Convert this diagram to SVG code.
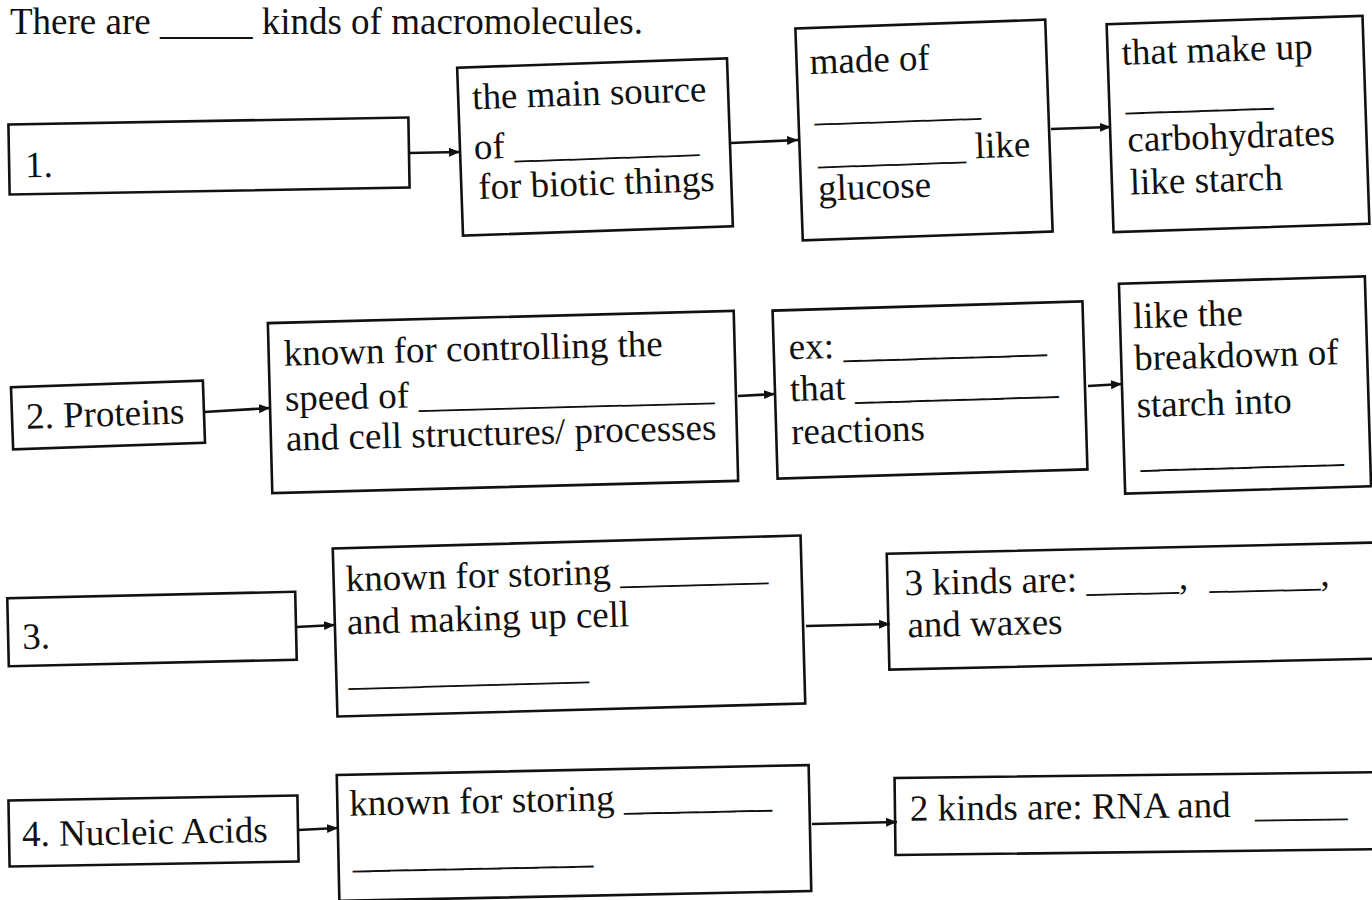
<svg xmlns="http://www.w3.org/2000/svg" width="1372" height="900" viewBox="0 0 1372 900">
<style>
  .box { fill: #fff; stroke: #111; stroke-width: 2.6; }
  text { font-family: "Liberation Serif", "Times New Roman", serif; font-size: 37px; fill: #111; }
  .conn line { stroke: #111; stroke-width: 2.6; }
</style>
<defs>
  <marker id="ah" markerUnits="userSpaceOnUse" markerWidth="12" markerHeight="10" refX="11" refY="5" orient="auto">
    <path d="M0,0.5 L11,5 L0,9.5 Z" fill="#111"/>
  </marker>
</defs>
<rect width="1372" height="900" fill="#fff"/>

<text id="title" x="10" y="34">There are _____ kinds of macromolecules.</text>

<g id="n1" transform="translate(209,156) rotate(-1)">
  <rect class="box" x="-200" y="-35" width="400" height="70"/>
  <text x="-184" y="18">1.</text>
</g>
<g id="n1a" transform="translate(595,147) rotate(-2)">
  <rect class="box" x="-135" y="-84" width="270" height="168"/>
  <text x="-121" y="-42">the main source</text>
  <text x="-121" y="8">of __________</text>
  <text x="-118" y="48">for biotic things</text>
</g>
<g id="n1b" transform="translate(924,130) rotate(-2)">
  <rect class="box" x="-125" y="-106" width="250" height="212"/>
  <text x="-112" y="-60">made of</text>
  <text x="-109" y="-13">_________</text>
  <text x="-107" y="30">________ like</text>
  <text x="-108" y="67">glucose</text>
</g>
<g id="n1c" transform="translate(1238,124) rotate(-1.9)">
  <rect class="box" x="-128" y="-104" width="256" height="208"/>
  <text x="-114" y="-63">that make up</text>
  <text x="-112" y="-18">________</text>
  <text x="-111" y="24">carbohydrates</text>
  <text x="-110" y="67">like starch</text>
</g>

<g id="n2" transform="translate(108,415) rotate(-2)">
  <rect class="box" x="-96" y="-31" width="192" height="62"/>
  <text x="-82" y="11">2. Proteins</text>
</g>
<g id="n2a" transform="translate(503,402) rotate(-1.5)">
  <rect class="box" x="-233" y="-85" width="466" height="170"/>
  <text x="-218" y="-42">known for controlling the</text>
  <text x="-218" y="3">speed of ________________</text>
  <text x="-218" y="43">and cell structures/ processes</text>
</g>
<g id="n2b" transform="translate(930,390) rotate(-1.7)">
  <rect class="box" x="-155" y="-84" width="310" height="168"/>
  <text x="-140" y="-35">ex: ___________</text>
  <text x="-140" y="7">that ___________</text>
  <text x="-140" y="50">reactions</text>
</g>
<g id="n2c" transform="translate(1245,385) rotate(-1.7)">
  <rect class="box" x="-123" y="-105" width="246" height="210"/>
  <text x="-110" y="-60">like the</text>
  <text x="-110" y="-18">breakdown of</text>
  <text x="-109" y="29">starch into</text>
  <text x="-107" y="79">___________</text>
</g>

<g id="n3" transform="translate(152,629) rotate(-1.3)">
  <rect class="box" x="-144" y="-34" width="288" height="68"/>
  <text x="-130" y="17">3.</text>
</g>
<g id="n3a" transform="translate(569,626) rotate(-1.6)">
  <rect class="box" x="-234" y="-84" width="468" height="168"/>
  <text x="-222" y="-41">known for storing ________</text>
  <text x="-222" y="2">and making up cell</text>
  <text x="-222" y="53">_____________</text>
</g>
<g id="n3b" transform="translate(1138,606) rotate(-1.3)">
  <rect class="box" x="-250" y="-58" width="500" height="116"/>
  <text x="-233" y="-16">3 kinds are: _____, <tspan x="72">______,</tspan></text>
  <text x="-231" y="26">and waxes</text>
</g>

<g id="n4" transform="translate(153,831) rotate(-1)">
  <rect class="box" x="-144" y="-33" width="289" height="66"/>
  <text x="-131" y="13">4. Nucleic Acids</text>
</g>
<g id="n4a" transform="translate(574,833) rotate(-1.2)">
  <rect class="box" x="-236" y="-63" width="472" height="126"/>
  <text x="-224" y="-22">known for storing ________</text>
  <text x="-222" y="30">_____________</text>
</g>
<g id="n4b" transform="translate(1145,813) rotate(-0.7)">
  <rect class="box" x="-250" y="-38" width="500" height="77"/>
  <text x="-235" y="5">2 kinds are: RNA and <tspan x="110">_____</tspan></text>
</g>

<g id="connectors" class="conn">
  <line x1="409" y1="153" x2="460" y2="152" marker-end="url(#ah)"/>
  <line x1="731" y1="143" x2="798" y2="140" marker-end="url(#ah)"/>
  <line x1="1051" y1="129" x2="1111" y2="127" marker-end="url(#ah)"/>
  <line x1="204" y1="412" x2="270" y2="408" marker-end="url(#ah)"/>
  <line x1="738" y1="396" x2="775" y2="394" marker-end="url(#ah)"/>
  <line x1="1088" y1="386" x2="1122" y2="384" marker-end="url(#ah)"/>
  <line x1="296" y1="627" x2="335" y2="625" marker-end="url(#ah)"/>
  <line x1="806" y1="626" x2="890" y2="624" marker-end="url(#ah)"/>
  <line x1="298" y1="830" x2="338" y2="828" marker-end="url(#ah)"/>
  <line x1="812" y1="824" x2="897" y2="822" marker-end="url(#ah)"/>
</g>
</svg>
